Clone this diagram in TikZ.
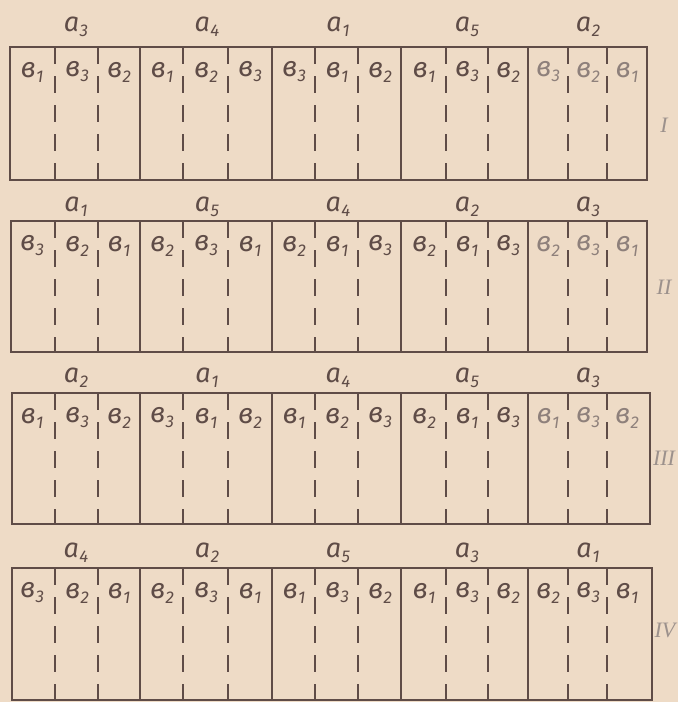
\documentclass[tikz,border=0pt]{standalone}
\usepackage{fontspec}
\setmainfont{Fira Sans}
\newfontfamily\romfont{Liberation Serif}
\definecolor{bg}{HTML}{EEDBC6}
\definecolor{ink}{HTML}{5F4C47}
\definecolor{faint}{HTML}{8E807B}
\definecolor{romcol}{HTML}{9C918C}
\newcommand\alabel[1]{a\kern0.5pt\raisebox{-5pt}{\fontsize{17}{17}\selectfont#1}}
\newcommand\blabel[1]{в\kern0.5pt\raisebox{-5pt}{\fontsize{17}{17}\selectfont#1}}
% #1 id, #2 top, #3 bottom, #4 left, #5 right, #6 a-label y, #7 a list, #8 b list, #9 faint last plot
\newcommand\fieldrow[9]{%
  \draw[plotline] (#4,#2) rectangle (#5,#3);
  \foreach \xx in {140,272,401,528} \draw[plotline] (\xx,#2) -- (\xx,#3);
  \foreach \xx in {55,98,183,228,315,358,446,488,568,607} \draw[splitline] (\xx,#2) -- (\xx,#3);
  \foreach \s [count=\k] in {#7} {
    \pgfmathsetmacro\xc{{76,207,338,467,588}[\k-1]}
    \node[alab] (a#1\k) at (\xc,#6) {\alabel{\s}};
  }
  \foreach \s [count=\k] in {#8} {
    \pgfmathsetmacro\xc{{32,77,119,162,206,250,294,337,380,424,467,508,548,588,627}[\k-1]}
    \ifnum#9=1 \ifnum\k>12 \def\tc{faint}\else\def\tc{ink}\fi\else\def\tc{ink}\fi
    \node[blab,text=\tc] (b#1\k) at (\xc,#2+25) {\blabel{\s}};
  }
}
\begin{document}
\begin{tikzpicture}[x=1pt,y=-1pt,
  plotline/.style={draw=ink,line width=2.6pt},
  splitline/.style={draw=ink,line width=1.8pt,dash pattern=on 17pt off 12pt},
  alab/.style={text=ink,font=\fontsize{27}{27}\selectfont\itshape,inner sep=0pt},
  blab/.style={font=\fontsize{28}{28}\selectfont\itshape,inner sep=0pt},
  rlab/.style={text=romcol,font=\romfont\itshape\fontsize{22}{22}\selectfont,inner sep=0pt}]
\fill[bg] (0,0) rectangle (678,702);
\useasboundingbox (0,0) rectangle (678,702);
\fieldrow{I}{47}{180}{10}{647}{27}{3,4,1,5,2}{1,3,2,1,2,3,3,1,2,1,3,2,3,2,1}{1}
\fieldrow{II}{221}{352}{11}{647}{207}{1,5,4,2,3}{3,2,1,2,3,1,2,1,3,2,1,3,2,3,1}{1}
\fieldrow{III}{393}{524}{12}{650}{378}{2,1,4,5,3}{1,3,2,3,1,2,1,2,3,2,1,3,1,3,2}{1}
\fieldrow{IV}{568}{700}{12}{652}{553}{4,2,5,3,1}{3,2,1,2,3,1,1,3,2,1,3,2,2,3,1}{0}
\node[rlab] (r1) at (664,125) {I};
\node[rlab] (r2) at (664,287) {II};
\node[rlab] (r3) at (664,458) {III};
\node[rlab] (r4) at (665,630) {IV};
\end{tikzpicture}
\end{document}
